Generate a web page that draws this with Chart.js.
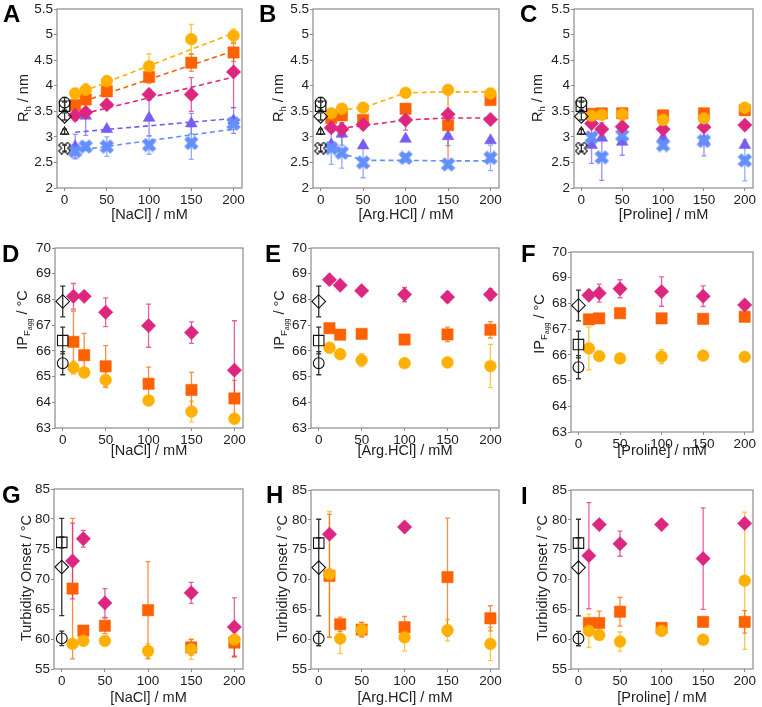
<!DOCTYPE html>
<html>
<head>
<meta charset="utf-8">
<script src="https://cdn.jsdelivr.net/npm/chart.js@4.4.1/dist/chart.umd.min.js"></script>
<style>
  body { margin: 0; background: #fff; font-family: "Liberation Sans", Arial, sans-serif; }
  #fig { position: relative; width: 762px; height: 707px; overflow: hidden; }
  #fig canvas { position: absolute; }
  .letter { position: absolute; font-size: 24px; font-weight: bold; line-height: 24px; color: #000; }
  .ytitle { position: absolute; font-size: 14.5px; line-height: 16px; color: #222; white-space: nowrap;
            transform: translate(-50%, -50%) rotate(-90deg); }
  .ytitle sub { font-size: 9.5px; vertical-align: -3px; }
  .ytitle sub sub { font-size: 7px; vertical-align: -2px; }
</style>
</head>
<body>
<div id="fig"></div>
<script>
// ── Datos ────────────────────────────────────────────────────────────────
const CONC = [12.5, 25, 50, 100, 150, 200];
const FIT_X = [12.5, 200];
const X_TICKS = [0, 50, 100, 150, 200];
const RH_TICKS = [2, 2.5, 3, 3.5, 4, 4.5, 5, 5.5];
const IP_TICKS = [63, 64, 65, 66, 67, 68, 69, 70];
const TURB_TICKS = [55, 60, 65, 70, 75, 80, 85];

// tampón sin aditivo (x = 0): circle, square, diamond, triangle, cross
const RH_BUFFER = [3.67, 3.6, 3.4, 3.1, 2.78];
const RH_BUFFER_ERR = [0.1, 0.08, 0.07, 0.05, 0.06];
// circle, square, diamond
const IP_BUFFER = [65.52, 66.4, 67.92];
const IP_BUFFER_ERR = [0.45, 0.52, 0.6];
const TURB_BUFFER = [60.1, 76.1, 72.0];
const TURB_BUFFER_ERR = [1.2, 0.9, 8.1];

// A: Rh vs NaCl
const RH_NACL_CIRCLE = [3.85, 3.92, 4.09, 4.38, 4.91, 4.98];
const RH_NACL_CIRCLE_ERR = [0.05, 0.12, 0.1, 0.24, 0.29, 0.13];
const RH_NACL_SQUARE = [3.62, 3.73, 3.89, 4.17, 4.45, 4.65];
const RH_NACL_SQUARE_ERR = [0.06, 0.06, 0.08, 0.12, 0.17, 0.18];
const RH_NACL_DIAMOND = [3.42, 3.48, 3.63, 3.83, 3.83, 4.27];
const RH_NACL_DIAMOND_ERR = [0.1, 0.08, 0.06, 0.1, 0.33, [0.7, 0.3]];
const RH_NACL_TRIANGLE = [2.81, 3.41, 3.15, 3.37, 3.26, 3.32];
const RH_NACL_TRIANGLE_ERR = [0.24, 0.38, 0.05, 0.35, 0.2, 0.25];
const RH_NACL_CROSS = [2.72, 2.81, 2.81, 2.84, 2.88, 3.26];
const RH_NACL_CROSS_ERR = [0.13, 0.08, 0.19, 0.18, 0.32, 0.12];
const RH_NACL_FIT_CIRCLE = [3.83, 5.03];
const RH_NACL_FIT_SQUARE = [3.64, 4.68];
const RH_NACL_FIT_DIAMOND = [3.41, 4.17];
const RH_NACL_FIT_TRIANGLE = [3.09, 3.36];
const RH_NACL_FIT_CROSS = [2.73, 3.15];

// B: Rh vs Arg.HCl
const RH_ARG_CIRCLE = [3.46, 3.55, 3.57, 3.86, 3.92, 3.85];
const RH_ARG_CIRCLE_ERR = [0.04, 0.04, 0.04, 0.03, 0.03, 0.04];
const RH_ARG_SQUARE = [3.37, 3.42, 3.33, 3.55, 3.23, 3.72];
const RH_ARG_SQUARE_ERR = [0.04, 0.05, 0.04, 0.05, 0.75, 0.05];
const RH_ARG_DIAMOND = [3.18, 3.15, 3.24, 3.33, 3.44, 3.34];
const RH_ARG_DIAMOND_ERR = [0.05, 0.12, 0.04, 0.2, 0.04, 0.04];
const RH_ARG_TRIANGLE = [2.85, 3.06, 2.83, 2.96, 3.01, 2.93];
const RH_ARG_TRIANGLE_ERR = [0.05, 0.22, 0.04, 0.05, 0.18, 0.05];
const RH_ARG_CROSS = [2.78, 2.69, 2.5, 2.59, 2.46, 2.59];
const RH_ARG_CROSS_ERR = [0.32, 0.3, 0.3, 0.08, 0.05, 0.25];
const RH_ARG_TREND_CIRCLE = [3.46, 3.53, 3.57, 3.86, 3.88, 3.88];
const RH_ARG_TREND_DIAMOND = [3.18, 3.17, 3.22, 3.33, 3.37, 3.37];
const RH_ARG_TREND_CROSS = [2.78, 2.68, 2.54, 2.54, 2.53, 2.53];

// C: Rh vs Proline
const RH_PRO_CIRCLE = [3.41, 3.43, 3.44, 3.33, 3.36, 3.57];
const RH_PRO_CIRCLE_ERR = [0.05, 0.05, 0.12, 0.04, 0.04, 0.04];
const RH_PRO_SQUARE = [3.45, 3.46, 3.46, 3.42, 3.46, 3.52];
const RH_PRO_SQUARE_ERR = [0.04, 0.04, 0.05, 0.04, 0.04, 0.04];
const RH_PRO_DIAMOND = [3.26, 3.15, 3.2, 3.15, 3.19, 3.23];
const RH_PRO_DIAMOND_ERR = [0.04, 0.04, 0.04, 0.04, 0.04, 0.04];
const RH_PRO_TRIANGLE = [2.84, 2.98, 2.9, 2.98, 2.93, 2.84];
const RH_PRO_TRIANGLE_ERR = [0.36, [0.83, 0.3], 0.26, 0.05, 0.3, 0.05];
const RH_PRO_CROSS = [2.99, 2.6, 3.03, 2.84, 2.92, 2.54];
const RH_PRO_CROSS_ERR = [0.08, 0.05, 0.1, 0.08, 0.04, 0.4];

// D-F: IP Fagg
const IP_NACL_CIRCLE = [65.35, 65.16, 64.87, 64.07, 63.64, 63.36];
const IP_NACL_CIRCLE_ERR = [0.25, 0.2, 0.3, 0.1, 0.4, 0.05];
const IP_NACL_SQUARE = [66.35, 65.83, 65.4, 64.72, 64.48, 64.15];
const IP_NACL_SQUARE_ERR = [1.2, 0.85, 0.8, 0.65, 0.68, 0.7];
const IP_NACL_DIAMOND = [68.12, 68.12, 67.5, 66.98, 66.71, 65.25];
const IP_NACL_DIAMOND_ERR = [0.5, 0.1, 0.56, 0.84, 0.42, [1.0, 1.92]];

const IP_ARG_CIRCLE = [66.12, 65.87, 65.64, 65.52, 65.55, 65.41];
const IP_ARG_CIRCLE_ERR = [0.06, 0.2, 0.25, 0.05, 0.2, 0.84];
const IP_ARG_SQUARE = [66.88, 66.63, 66.66, 66.44, 66.64, 66.82];
const IP_ARG_SQUARE_ERR = [0.05, 0.05, 0.05, 0.05, 0.28, 0.32];
const IP_ARG_DIAMOND = [68.77, 68.55, 68.34, 68.19, 68.09, 68.19];
const IP_ARG_DIAMOND_ERR = [0.06, 0.06, 0.06, 0.28, 0.2, 0.22];

const IP_PRO_CIRCLE = [66.25, 65.95, 65.86, 65.93, 65.97, 65.92];
const IP_PRO_CIRCLE_ERR = [0.83, 0.1, 0.05, 0.27, 0.05, 0.05];
const IP_PRO_SQUARE = [67.38, 67.42, 67.62, 67.42, 67.4, 67.48];
const IP_PRO_SQUARE_ERR = [0.05, 0.05, 0.05, 0.05, 0.05, 0.05];
const IP_PRO_DIAMOND = [68.32, 68.4, 68.57, 68.46, 68.28, 67.94];
const IP_PRO_DIAMOND_ERR = [0.06, 0.35, 0.35, 0.57, 0.4, 0.06];

// G-I: Turbidity onset
const TURB_NACL_CIRCLE = [59.2, 59.7, 59.7, 58.0, 58.3, 59.9];
const TURB_NACL_CIRCLE_ERR = [0.5, 0.4, 0.4, 1.2, 1.7, 2.8];
const TURB_NACL_SQUARE = [68.4, 61.4, 62.2, 64.8, 58.6, 59.4];
const TURB_NACL_SQUARE_ERR = [11.7, 0.5, 1.3, 8.1, 1.3, 2.4];
const TURB_NACL_DIAMOND = [73.0, 76.7, 66.0, null, 67.7, 62.0];
const TURB_NACL_DIAMOND_ERR = [6.3, 1.4, 2.4, 0, 1.75, 4.85];

const TURB_ARG_CIRCLE = [70.9, 60.1, 61.6, 60.3, 61.5, 59.2];
const TURB_ARG_CIRCLE_ERR = [10.5, 2.5, 1.2, 2.3, 1.8, 2.8];
const TURB_ARG_SQUARE = [70.6, 62.5, 61.6, 62.0, 70.4, 63.5];
const TURB_ARG_SQUARE_ERR = [10.3, 1.2, 1.2, 1.8, 9.9, 2.1];
const TURB_ARG_DIAMOND = [77.6, null, null, 78.8, null, null];
const TURB_ARG_DIAMOND_ERR = [0.3, 0, 0, 0.3, 0, 0];

const TURB_PRO_CIRCLE = [61.4, 60.7, 59.6, 61.4, 59.9, 69.8];
const TURB_PRO_CIRCLE_ERR = [2.8, 0.3, 1.6, 0.3, 0.3, 11.5];
const TURB_PRO_SQUARE = [62.7, 62.7, 64.6, 61.9, 62.9, 62.9];
const TURB_PRO_SQUARE_ERR = [0.3, 2.0, 2.4, 0.3, 0.3, 1.9];
const TURB_PRO_DIAMOND = [74.0, 79.2, 76.0, 79.2, 73.5, 79.4];
const TURB_PRO_DIAMOND_ERR = [8.9, 0.3, 2.1, 0.3, 8.5, 0.3];

// ── Estilo ───────────────────────────────────────────────────────────────
Chart.defaults.font.family = "'Liberation Sans', Arial, sans-serif";
const X_MIN = -9, X_MAX = 210;
const AXIS_GRAY = '#8c8c8c';
const TEXT = '#222';

function hexA(hex, a) {
  const n = parseInt(hex.slice(1), 16);
  return `rgba(${n >> 16},${(n >> 8) & 255},${n & 255},${a})`;
}

// X gruesa (relleno) o en contorno, como imagen para pointStyle
function xMarker(color, filled, size) {
  const c = document.createElement('canvas');
  c.width = c.height = size;
  const g = c.getContext('2d');
  const a = size * 0.16, L = size * 0.48;
  const pts = [[-a,-L],[a,-L],[a,-a],[L,-a],[L,a],[a,a],[a,L],[-a,L],[-a,a],[-L,a],[-L,-a],[-a,-a]];
  g.translate(size / 2, size / 2);
  g.rotate(Math.PI / 4);
  g.beginPath();
  pts.forEach(([px, py], k) => k ? g.lineTo(px, py) : g.moveTo(px, py));
  g.closePath();
  if (filled) { g.fillStyle = color; g.fill(); g.strokeStyle = hexA(color, 0.5); g.lineWidth = 1; g.stroke(); }
  else { g.strokeStyle = color; g.lineWidth = 1.1; g.stroke(); }
  return c;
}

const SHAPES = {
  circle:   { color: '#FFB000', style: 'circle',   r: 5.9, order: 1 },
  diamond:  { color: '#DC267F', style: 'rectRot',  r: 7.2, order: 2 },
  square:   { color: '#FE6100', style: 'rect',     r: 8.0, order: 3 },
  cross:    { color: '#648FFF', style: xMarker('#648FFF', true, 15), r: 7.5, order: 4 },
  triangle: { color: '#785EF0', style: 'triangle', r: 6.8, order: 5 },
};
const BUFFER_STYLE = {
  circle: 'circle', square: 'rect', diamond: 'rectRot', triangle: 'triangle',
  cross: xMarker('#111111', false, 13),
};
const BUFFER_R = { circle: 5.4, square: 7.4, diamond: 6.8, triangle: 4.8, cross: 6.5 };

function series(shape, vals, errs) {
  const s = SHAPES[shape];
  return {
    type: 'scatter',
    data: CONC.map((x, i) => ({ x, y: vals[i] })),
    errors: errs,
    errColor: hexA(s.color, 0.72),
    pointStyle: s.style,
    pointRadius: s.r,
    pointBackgroundColor: s.color,
    pointBorderColor: hexA(s.color, 0.5),
    pointBorderWidth: 1,
    order: s.order,
    clip: false,
  };
}

function trend(shape, xs, ys) {
  return {
    type: 'line',
    data: xs.map((x, i) => ({ x, y: ys[i] })),
    borderColor: SHAPES[shape].color,
    borderWidth: 1.6,
    borderDash: [5, 3.5],
    pointRadius: 0,
    fill: false,
    tension: 0,
    order: 9,
    clip: false,
  };
}

function buffer(shapes, vals, errs) {
  return shapes.map((shape, i) => ({
    type: 'scatter',
    data: [{ x: 0, y: vals[i] }],
    errors: [errs[i]],
    errColor: '#333',
    pointStyle: BUFFER_STYLE[shape],
    pointRadius: BUFFER_R[shape],
    pointBackgroundColor: 'rgba(0,0,0,0)',
    pointBorderColor: '#111',
    pointBorderWidth: 1.1,
    order: 0,
    clip: false,
  }));
}

// Barras de error (antes de los puntos)
const errorBars = {
  id: 'errorBars',
  beforeDatasetsDraw(chart) {
    const { ctx } = chart;
    const ys = chart.scales.y;
    chart.data.datasets.forEach((ds, i) => {
      if (!ds.errors) return;
      const meta = chart.getDatasetMeta(i);
      ctx.save();
      ctx.strokeStyle = ds.errColor;
      ctx.lineWidth = 1.3;
      meta.data.forEach((pt, j) => {
        const v = ds.data[j].y;
        const e = ds.errors[j];
        if (v == null || !e) return;
        const lo = Array.isArray(e) ? e[0] : e;
        const hi = Array.isArray(e) ? e[1] : e;
        const y1 = ys.getPixelForValue(v + hi), y2 = ys.getPixelForValue(v - lo);
        const x = pt.x;
        ctx.beginPath();
        ctx.moveTo(x, y1); ctx.lineTo(x, y2);
        ctx.moveTo(x - 2.5, y1); ctx.lineTo(x + 2.5, y1);
        ctx.moveTo(x - 2.5, y2); ctx.lineTo(x + 2.5, y2);
        ctx.stroke();
      });
      ctx.restore();
    });
  },
};

// Marco gris alrededor del área
const frame = {
  id: 'frame',
  beforeDatasetsDraw(chart) {
    const { ctx, chartArea: a } = chart;
    ctx.save();
    ctx.strokeStyle = AXIS_GRAY;
    ctx.lineWidth = 1.2;
    ctx.strokeRect(a.left, a.top, a.right - a.left, a.bottom - a.top);
    ctx.restore();
  },
};

// ── Paneles ──────────────────────────────────────────────────────────────
const RH_Y = { min: 2, max: 5.5, ticks: RH_TICKS, title: 'R<sub>h</sub> / nm' };
const IP_Y = { min: 63, max: 70, ticks: IP_TICKS, title: 'IP<sub>F<sub>agg</sub></sub> / °C' };
const TURB_Y = { min: 55, max: 85, ticks: TURB_TICKS, title: 'Turbidity Onset / °C' };
const RH_SHAPES = ['circle', 'square', 'diamond', 'triangle', 'cross'];
const T_SHAPES = ['circle', 'square', 'diamond'];

const panels = [
  { letter: 'A', cell: [0, 0, 254, 235], area: [57, 7, 242, 188], titlePad: 11.4, letterPos: [3, 2], yTitlePos: [25, 98],
    xTitle: '[NaCl] / mM', y: RH_Y,
    datasets: [
      ...buffer(RH_SHAPES, RH_BUFFER, RH_BUFFER_ERR),
      series('circle', RH_NACL_CIRCLE, RH_NACL_CIRCLE_ERR),
      series('square', RH_NACL_SQUARE, RH_NACL_SQUARE_ERR),
      series('diamond', RH_NACL_DIAMOND, RH_NACL_DIAMOND_ERR),
      series('triangle', RH_NACL_TRIANGLE, RH_NACL_TRIANGLE_ERR),
      series('cross', RH_NACL_CROSS, RH_NACL_CROSS_ERR),
      trend('circle', FIT_X, RH_NACL_FIT_CIRCLE),
      trend('square', FIT_X, RH_NACL_FIT_SQUARE),
      trend('diamond', FIT_X, RH_NACL_FIT_DIAMOND),
      trend('triangle', FIT_X, RH_NACL_FIT_TRIANGLE),
      trend('cross', FIT_X, RH_NACL_FIT_CROSS),
    ] },
  { letter: 'B', cell: [254, 0, 254, 235], area: [313, 7, 500, 188], titlePad: 11.4, letterPos: [259, 2], yTitlePos: [280, 98],
    xTitle: '[Arg.HCl] / mM', y: RH_Y,
    datasets: [
      ...buffer(RH_SHAPES, RH_BUFFER, RH_BUFFER_ERR),
      series('circle', RH_ARG_CIRCLE, RH_ARG_CIRCLE_ERR),
      series('square', RH_ARG_SQUARE, RH_ARG_SQUARE_ERR),
      series('diamond', RH_ARG_DIAMOND, RH_ARG_DIAMOND_ERR),
      series('triangle', RH_ARG_TRIANGLE, RH_ARG_TRIANGLE_ERR),
      series('cross', RH_ARG_CROSS, RH_ARG_CROSS_ERR),
      trend('circle', CONC, RH_ARG_TREND_CIRCLE),
      trend('diamond', CONC, RH_ARG_TREND_DIAMOND),
      trend('cross', CONC, RH_ARG_TREND_CROSS),
    ] },
  { letter: 'C', cell: [508, 0, 254, 235], area: [574, 7, 759, 188], titlePad: 11.4, letterPos: [520, 2], yTitlePos: [539, 98],
    xTitle: '[Proline] / mM', y: RH_Y,
    datasets: [
      ...buffer(RH_SHAPES, RH_BUFFER, RH_BUFFER_ERR),
      series('circle', RH_PRO_CIRCLE, RH_PRO_CIRCLE_ERR),
      series('square', RH_PRO_SQUARE, RH_PRO_SQUARE_ERR),
      series('diamond', RH_PRO_DIAMOND, RH_PRO_DIAMOND_ERR),
      series('triangle', RH_PRO_TRIANGLE, RH_PRO_TRIANGLE_ERR),
      series('cross', RH_PRO_CROSS, RH_PRO_CROSS_ERR),
    ] },
  { letter: 'D', cell: [0, 235, 254, 235], area: [55, 248, 243, 428], titlePad: 10.4, letterPos: [2, 242], yTitlePos: [26, 320],
    xTitle: '[NaCl] / mM', y: IP_Y,
    datasets: [
      ...buffer(T_SHAPES, IP_BUFFER, IP_BUFFER_ERR),
      series('circle', IP_NACL_CIRCLE, IP_NACL_CIRCLE_ERR),
      series('square', IP_NACL_SQUARE, IP_NACL_SQUARE_ERR),
      series('diamond', IP_NACL_DIAMOND, IP_NACL_DIAMOND_ERR),
    ] },
  { letter: 'E', cell: [254, 235, 254, 235], area: [311, 248, 501, 428], titlePad: 10.4, letterPos: [265, 242], yTitlePos: [283, 320],
    xTitle: '[Arg.HCl] / mM', y: IP_Y,
    datasets: [
      ...buffer(T_SHAPES, IP_BUFFER, IP_BUFFER_ERR),
      series('circle', IP_ARG_CIRCLE, IP_ARG_CIRCLE_ERR),
      series('square', IP_ARG_SQUARE, IP_ARG_SQUARE_ERR),
      series('diamond', IP_ARG_DIAMOND, IP_ARG_DIAMOND_ERR),
    ] },
  { letter: 'F', cell: [508, 235, 254, 235], area: [571, 252, 759, 432], titlePad: 10.4, letterPos: [521, 242], yTitlePos: [543, 324],
    xTitle: '[Proline] / mM', y: IP_Y,
    datasets: [
      ...buffer(T_SHAPES, IP_BUFFER, IP_BUFFER_ERR),
      series('circle', IP_PRO_CIRCLE, IP_PRO_CIRCLE_ERR),
      series('square', IP_PRO_SQUARE, IP_PRO_SQUARE_ERR),
      series('diamond', IP_PRO_DIAMOND, IP_PRO_DIAMOND_ERR),
    ] },
  { letter: 'G', cell: [0, 470, 254, 237], area: [54, 489, 243, 669], titlePad: 0.6, letterPos: [2, 483], yTitlePos: [26, 578],
    xTitle: '[NaCl] / mM', y: TURB_Y,
    datasets: [
      ...buffer(T_SHAPES, TURB_BUFFER, TURB_BUFFER_ERR),
      series('circle', TURB_NACL_CIRCLE, TURB_NACL_CIRCLE_ERR),
      series('square', TURB_NACL_SQUARE, TURB_NACL_SQUARE_ERR),
      series('diamond', TURB_NACL_DIAMOND, TURB_NACL_DIAMOND_ERR),
    ] },
  { letter: 'H', cell: [254, 470, 254, 237], area: [311, 490, 501, 669], titlePad: 0.6, letterPos: [266, 483], yTitlePos: [282, 578],
    xTitle: '[Arg.HCl] / mM', y: TURB_Y,
    datasets: [
      ...buffer(T_SHAPES, TURB_BUFFER, TURB_BUFFER_ERR),
      series('circle', TURB_ARG_CIRCLE, TURB_ARG_CIRCLE_ERR),
      series('square', TURB_ARG_SQUARE, TURB_ARG_SQUARE_ERR),
      series('diamond', TURB_ARG_DIAMOND, TURB_ARG_DIAMOND_ERR),
    ] },
  { letter: 'I', cell: [508, 470, 254, 237], area: [571, 490, 759, 669], titlePad: 0.6, letterPos: [521, 484], yTitlePos: [542, 578],
    xTitle: '[Proline] / mM', y: TURB_Y,
    datasets: [
      ...buffer(T_SHAPES, TURB_BUFFER, TURB_BUFFER_ERR),
      series('circle', TURB_PRO_CIRCLE, TURB_PRO_CIRCLE_ERR),
      series('square', TURB_PRO_SQUARE, TURB_PRO_SQUARE_ERR),
      series('diamond', TURB_PRO_DIAMOND, TURB_PRO_DIAMOND_ERR),
    ] },
];

const fig = document.getElementById('fig');

panels.forEach(p => {
  const [cx, cy, cw, ch] = p.cell;
  const [al, at, ar, ab] = p.area;
  const canvas = document.createElement('canvas');
  canvas.width = cw; canvas.height = ch;
  canvas.style.left = cx + 'px'; canvas.style.top = cy + 'px';
  fig.appendChild(canvas);

  const letter = document.createElement('div');
  letter.className = 'letter';
  letter.textContent = p.letter;
  letter.style.left = p.letterPos[0] + 'px';
  letter.style.top = p.letterPos[1] + 'px';
  fig.appendChild(letter);

  const yt = document.createElement('div');
  yt.className = 'ytitle';
  yt.innerHTML = p.y.title;
  yt.style.left = p.yTitlePos[0] + 'px';
  yt.style.top = p.yTitlePos[1] + 'px';
  fig.appendChild(yt);

  const yW = al - cx, xH = cy + ch - ab;

  new Chart(canvas, {
    type: 'scatter',
    data: { datasets: p.datasets },
    options: {
      responsive: false,
      animation: false,
      events: [],
      layout: { padding: { left: 0, top: at - cy, right: cx + cw - ar, bottom: 0 } },
      plugins: { legend: { display: false }, tooltip: { enabled: false } },
      scales: {
        x: {
          type: 'linear', min: X_MIN, max: X_MAX,
          afterBuildTicks: s => { s.ticks = X_TICKS.map(v => ({ value: v })); },
          afterFit: s => { s.height = xH; s.paddingLeft = 0; s.paddingRight = 0; },
          ticks: { color: TEXT, font: { size: 13.5 }, padding: 1, maxRotation: 0, autoSkip: false, callback: v => String(v) },
          grid: { drawOnChartArea: false, drawTicks: true, tickLength: 3, color: AXIS_GRAY },
          border: { display: false },
          title: { display: true, text: p.xTitle, color: TEXT, font: { size: 14.5 }, padding: { top: 0, bottom: p.titlePad } },
        },
        y: {
          type: 'linear', min: p.y.min, max: p.y.max,
          afterBuildTicks: s => { s.ticks = p.y.ticks.map(v => ({ value: v })); },
          afterFit: s => { s.width = yW; s.paddingTop = 0; s.paddingBottom = 0; },
          ticks: { color: TEXT, font: { size: 13.5 }, padding: 1, autoSkip: false, callback: v => String(v) },
          grid: { drawOnChartArea: false, drawTicks: true, tickLength: 3, color: AXIS_GRAY },
          border: { display: false },
        },
      },
    },
    plugins: [frame, errorBars],
  });
});
</script>
</body>
</html>
